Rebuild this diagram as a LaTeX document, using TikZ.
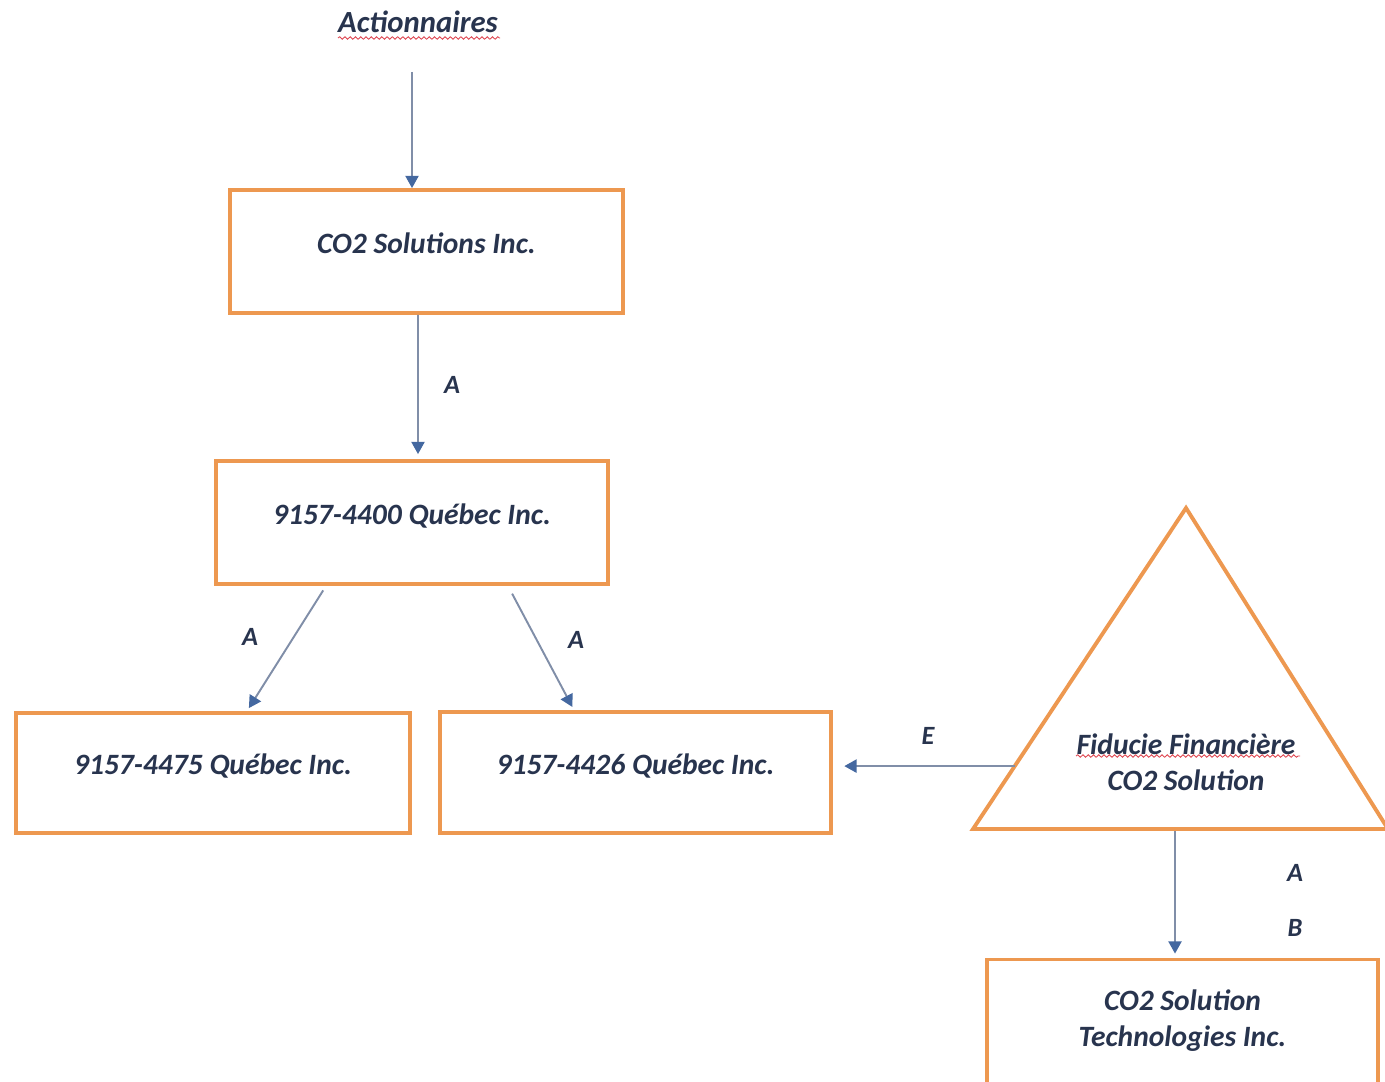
\documentclass[tikz,border=0pt]{standalone}
\usepackage{fontspec}
\setmainfont{Carlito}
\usetikzlibrary{arrows.meta,decorations.pathmorphing}
\definecolor{boxorange}{RGB}{237,152,80}
\definecolor{inktext}{RGB}{40,52,78}
\definecolor{linkgrey}{RGB}{128,142,168}
\definecolor{linkhead}{RGB}{68,104,160}
\definecolor{spellred}{RGB}{222,70,80}
\begin{document}
\begin{tikzpicture}[x=0.02cm,y=-0.02cm,
  firm/.style={draw=boxorange,line width=2.2pt,rectangle,minimum width=#1,
    text=inktext,font=\fontsize{16.8}{20.4}\selectfont\bfseries\itshape,
    align=center,text depth=10pt},
  firm/.default=7.84cm,
  tag/.style={text=inktext,font=\fontsize{15}{18}\selectfont\bfseries\itshape},
  link/.style={draw=linkgrey,line width=1.1pt,
    -{Triangle[length=7pt,width=7.5pt,color=linkhead]}},
  wavy/.style={draw=spellred,line width=0.5pt,
    decorate,decoration={snake,amplitude=0.7pt,segment length=3pt}}]
\useasboundingbox (0,0) rectangle (1385,1081);

% shareholders
\node[tag,font=\fontsize{17.5}{20}\selectfont\bfseries\itshape] (act) at (418,22) {Actionnaires};
\coordinate (actfoot) at (412,72);
\draw[wavy] (338,38) -- (500,38);

% boxes
\node[firm=7.86cm,minimum height=2.46cm] (co2) at (426.5,251.5) {CO2 Solutions Inc.};
\node[firm=7.84cm,minimum height=2.46cm] (q4400) at (412,522.5) {9157-4400 Québec Inc.};
\node[firm=7.88cm,minimum height=2.40cm] (q4475) at (213,773) {9157-4475 Québec Inc.};
\node[firm=7.82cm,minimum height=2.42cm] (q4426) at (635.5,772.5) {9157-4426 Québec Inc.};
\node[firm=7.82cm,minimum height=2.50cm,text depth=4pt] (tech) at (1182.5,1022)
  {CO2 Solution\\Technologies Inc.};

% trust
\coordinate (fidtop) at (1186,508);
\coordinate (fidleft) at (973,829);
\coordinate (fidright) at (1388,829);
\draw[boxorange,line width=2.2pt,line join=miter] (fidtop) -- (fidright) -- (fidleft) -- cycle;
\node[text=inktext,font=\fontsize{16.8}{20.4}\selectfont\bfseries\itshape,align=center] (fid) at (1186,762)
  {Fiducie Financière\\CO2 Solution};
\draw[wavy] (1076,756) -- (1300,756);
\path (fidleft) -- (fidtop) coordinate[pos=0.196] (fidE);
\coordinate (fidB) at (1175,831);

% links
\draw[link] (actfoot) -- (co2.north -| actfoot);
\draw[link] ([xshift=-0.17cm]co2.south) -- ([xshift=0.12cm,yshift=0.1cm]q4400.north);
\draw[link,shorten <=3pt,shorten >=2pt] ([xshift=-1.72cm]q4400.south) -- ([xshift=0.68cm]q4475.north);
\draw[link,shorten <=5pt,shorten >=2pt] ([xshift=1.92cm]q4400.south) -- ([xshift=-1.23cm]q4426.north);
\draw[link,shorten >=6.5pt] (fidE) -- (q4426.east |- fidE);
\draw[link] (fidB) -- ([xshift=-0.15cm,yshift=0.08cm]tech.north);

% labels
\node[tag] (lA1) at (452,385) {A};
\node[tag] (lA2) at (250,637) {A};
\node[tag] (lA3) at (576,640) {A};
\node[tag] (lE) at (928,736) {E};
\node[tag] (lA4) at (1295,873) {A};
\node[tag] (lB) at (1295,928) {B};
\end{tikzpicture}
\end{document}
